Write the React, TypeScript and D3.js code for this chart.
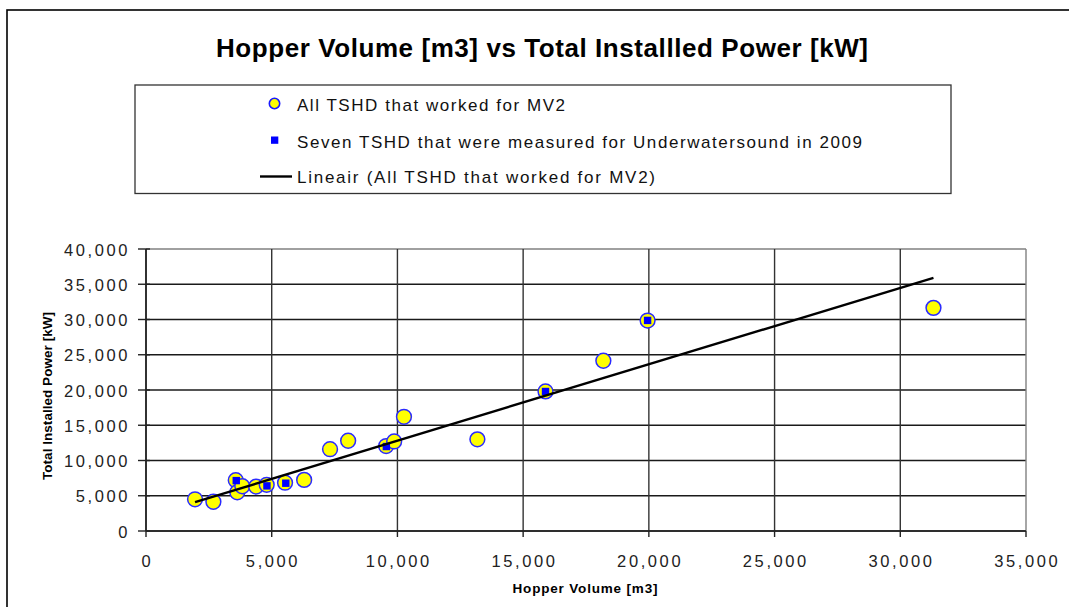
import React from "react";
import * as d3 from "d3";

// All TSHD that worked for MV2
const hopperVolume = [1950, 2680, 3570, 3630, 3830, 4380, 4800, 5530, 6290, 7320, 8040, 9550, 9870, 10260, 13180, 15890, 18190, 19950, 31320];
const installedPower = [4500, 4150, 7200, 5500, 6350, 6300, 6550, 6850, 7250, 11600, 12800, 12050, 12700, 16200, 13000, 19800, 24150, 29850, 31650];

// Seven TSHD measured for underwater sound in 2009 (visible markers)
const measuredVolume = [3590, 4810, 5560, 9560, 15890, 19950];
const measuredPower = [7150, 6400, 6780, 11980, 19790, 29870];

// Linear trendline
const trendSlope = 1.0835;
const trendIntercept = 1977;

const xTicks = [0, 5000, 10000, 15000, 20000, 25000, 30000, 35000];
const yTicks = [0, 5000, 10000, 15000, 20000, 25000, 30000, 35000, 40000];

const titleText = "Hopper Volume [m3] vs Total Installled Power [kW]";
const legendLabels = [
  "All TSHD that worked for MV2",
  "Seven TSHD that were measured for Underwatersound in 2009",
  "Lineair (All TSHD that worked for MV2)",
];
const xAxisTitle = "Hopper Volume [m3]";
const yAxisTitle = "Total Installed Power [kW]";

export default function App() {
  const W = 1069, H = 607;
  const left = 146, right = 1026, top = 249, bottom = 531;
  const x = d3.scaleLinear().domain([0, 35000]).range([left, right]);
  const y = d3.scaleLinear().domain([0, 40000]).range([bottom, top]);
  const fmt = d3.format(",");
  const font = "'Liberation Sans', Arial, sans-serif";

  const allPts = hopperVolume.map((v, i) => [v, installedPower[i]]);
  const measPts = measuredVolume.map((v, i) => [v, measuredPower[i]]);
  const [xmin, xmax] = d3.extent(hopperVolume) as [number, number];
  const trend = [xmin, xmax].map((v) => [v, trendIntercept + trendSlope * v]);
  const line = d3.line<number[]>().x((d) => x(d[0])).y((d) => y(d[1]));

  const legendTextLen = [268, 565, 358];
  const legendY = [111, 147.5, 183];

  return (
    <svg width={W} height={H} style={{ position: "absolute", left: 0, top: 0, background: "#fff" }} fontFamily={font}>
      <rect x={0} y={0} width={W} height={H} fill="#fff" />
      <rect x={7} y={10} width={1200} height={800} fill="#fff" stroke="#000" strokeWidth={1.6} />
      <text x={216} y={57} fontSize={26} fontWeight="bold" textLength={652} lengthAdjust="spacing">{titleText}</text>

      {/* legend */}
      <rect x={135} y={85} width={816} height={108.5} fill="#fff" stroke="#333" strokeWidth={1.3} />
      <circle cx={274.5} cy={103.5} r={5.2} fill="#ffff00" stroke="#1a1aff" strokeWidth={1.6} />
      <rect x={271} y={136.5} width={7.3} height={7.3} fill="#0000ff" />
      <line x1={260} x2={292} y1={176.5} y2={176.5} stroke="#000" strokeWidth={2.4} />
      {legendLabels.map((t, i) => (
        <text key={t} x={297} y={legendY[i]} fontSize={17} fill="#111" textLength={legendTextLen[i]} lengthAdjust="spacing">{t}</text>
      ))}

      {/* grid */}
      {yTicks.map((t) => (
        <line key={"gy" + t} x1={left} x2={right} y1={y(t)} y2={y(t)} stroke={t === 40000 ? "#808080" : "#1a1a1a"} strokeWidth={1.4} />
      ))}
      {xTicks.map((t) => (
        <line key={"gx" + t} x1={x(t)} x2={x(t)} y1={top} y2={bottom} stroke={t === 35000 ? "#808080" : "#333"} strokeWidth={1.4} />
      ))}
      {/* axes */}
      <line x1={left} x2={left} y1={top} y2={bottom} stroke="#222" strokeWidth={1.6} />
      <line x1={left} x2={right} y1={bottom} y2={bottom} stroke="#222" strokeWidth={1.6} />
      {yTicks.map((t) => (
        <line key={"ty" + t} x1={left - 8} x2={left + 4} y1={y(t)} y2={y(t)} stroke="#222" strokeWidth={1.4} />
      ))}
      {xTicks.map((t) => (
        <line key={"tx" + t} x1={x(t)} x2={x(t)} y1={bottom} y2={bottom + 6} stroke="#222" strokeWidth={1.4} />
      ))}
      {yTicks.map((t) => (
        <text key={"ly" + t} x={130} y={y(t) + 6.5} fontSize={16.5} letterSpacing={2.6} textAnchor="end" fill="#222">{fmt(t)}</text>
      ))}
      {xTicks.map((t) => (
        <text key={"lx" + t} x={x(t) + 1.3} y={567} fontSize={16.5} letterSpacing={2.6} textAnchor="middle" fill="#222">{fmt(t)}</text>
      ))}
      <text x={585} y={593} fontSize={13.5} fontWeight="bold" textAnchor="middle" textLength={145} lengthAdjust="spacing">{xAxisTitle}</text>
      <text transform={`translate(51.5,396) rotate(-90)`} fontSize={13.5} fontWeight="bold" textAnchor="middle" textLength={168} lengthAdjust="spacing">{yAxisTitle}</text>

      {/* series */}
      {allPts.map((p, i) => (
        <circle key={"c" + i} cx={x(p[0])} cy={y(p[1])} r={7.4} fill="#ffff00" stroke="#2a2aff" strokeWidth={1.5} />
      ))}
      {measPts.map((p, i) => (
        <rect key={"s" + i} x={x(p[0]) - 3.7} y={y(p[1]) - 3.7} width={7.4} height={7.4} fill="#0000ff" />
      ))}
      <path d={line(trend) || ""} fill="none" stroke="#000" strokeWidth={2.4} />
    </svg>
  );
}
